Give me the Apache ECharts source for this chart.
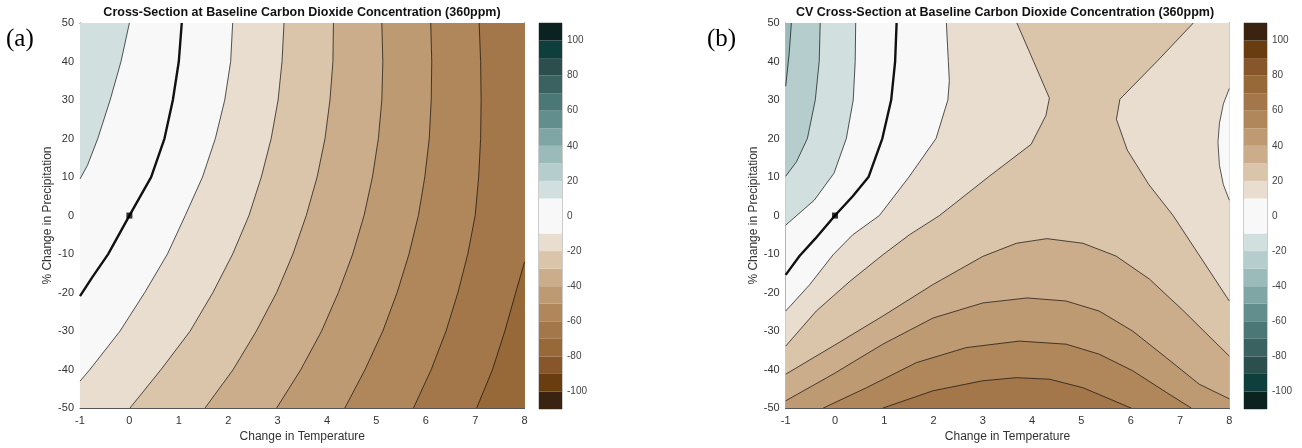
<!DOCTYPE html>
<html><head><meta charset="utf-8">
<script src="https://cdn.jsdelivr.net/npm/echarts@6/dist/echarts.min.js"></script>
<style>html,body{margin:0;padding:0;background:#fff}#c{width:1302px;height:448px}</style>
</head><body><div id="c"></div>
<script>
// ---------- axis ranges / tick labels ----------
const tempRange = [-1, 8];
const precipRange = [-50, 50];
const colorbarRange = [-110, 110];
const colorbarLabels = [-100, -80, -60, -40, -20, 0, 20, 40, 60, 80, 100];
const bandEdges = [-110,-100,-90,-80,-70,-60,-50,-40,-30,-20,-10,10,20,30,40,50,60,70,80,90,100,110];

// ---------- colour scales (index 0 = |value| 10..20, 9 = 100..110) ----------
const tealShades = ['#d2dfdf','#b6cdcd','#9bbaba','#7fa5a5','#628e8d','#4b7776','#3a6261','#2c4f4e','#0f3f3c','#0b2221'];
const brownShades = ['#e8ddcf','#dbc5aa','#cbad8b','#bd9a72','#b0865b','#a4774a','#986938','#87562a','#693d0f','#3b2311'];
const neutralShade = '#f8f8f8';

// ---------- panel (a): contour lines [temperature change, % precipitation change] ----------
const aLevel10  = [[0.0,50],[-0.17,40],[-0.39,30],[-0.64,20],[-0.85,13],[-1,9.5]];
const aLevel0   = [[1.06,50],[1.00,40],[0.88,30],[0.71,20],[0.44,10],[0,0],[-0.43,-10],[-0.75,-16],[-1,-20.9]];
const aLevelM10 = [[2.09,50],[2.05,40],[1.93,30],[1.74,20],[1.48,10],[1.13,0],[0.77,-10],[0.31,-20],[-0.19,-30],[-0.80,-40],[-1,-43]];
const aLevelM20 = [[3.13,50],[3.09,40],[3.01,30],[2.87,20],[2.67,10],[2.42,0],[2.09,-10],[1.69,-20],[1.23,-30],[0.64,-40],[0.01,-50]];
const aLevelM30 = [[4.13,50],[4.12,40],[4.06,30],[3.96,20],[3.80,10],[3.58,0],[3.31,-10],[2.98,-20],[2.57,-30],[2.10,-40],[1.53,-50]];
const aLevelM40 = [[5.11,50],[5.13,40],[5.11,30],[5.04,20],[4.92,10],[4.75,0],[4.52,-10],[4.23,-20],[3.89,-30],[3.47,-40],[2.98,-50]];
const aLevelM50 = [[6.10,50],[6.12,40],[6.11,30],[6.07,20],[5.98,10],[5.85,0],[5.66,-10],[5.42,-20],[5.13,-30],[4.77,-40],[4.36,-50]];
const aLevelM60 = [[7.08,50],[7.11,40],[7.12,30],[7.11,20],[7.07,10],[7.0,0],[6.85,-10],[6.65,-20],[6.41,-30],[6.11,-40],[5.75,-50]];
const aLevelM70 = [[7.03,-50],[7.35,-40],[7.6,-30],[7.82,-20],[8,-12]];

// ---------- panel (b): contour lines ----------
const bLevelM30 = [[-0.885,50],[-0.93,42],[-1,33.6]];
const bLevelM20 = [[-0.30,50],[-0.32,40],[-0.40,30],[-0.56,20],[-0.78,14],[-1,10.2]];
const bLevelM10 = [[0.42,50],[0.41,40],[0.37,30],[0.23,20],[-0.02,11],[-0.42,4],[-1,-2.5]];
const bLevel0   = [[1.25,50],[1.22,40],[1.14,30],[0.96,20],[0.68,10],[0.36,5],[0,0],[-0.40,-6],[-0.72,-10.5],[-1,-15.4]];
const bLevel10  = [[2.26,50],[2.30,40],[2.32,35],[2.29,30],[2.05,20],[1.50,10],[0.90,0],[0.36,-5],[-0.04,-10.2],[-0.51,-17.9],[-1,-24.8]];
const bLevel10Right = [[8,33],[7.88,29],[7.8,24],[7.77,19],[7.8,13],[7.88,8],[8,4]];
const bLevel20Left  = [[3.69,50],[4.03,40],[4.35,30.5],[4.28,26],[3.98,18.5],[3.14,10.3],[2.12,0],[1.51,-5],[0.97,-10.2],[0.30,-17.1],[-0.38,-24.8],[-1,-33.9]];
const bLevel20Right = [[7.27,50],[6.53,40],[5.78,30.2],[5.71,25],[5.93,17],[6.37,8],[6.86,0],[7.4,-10.5],[8,-22.2]];
const bLevel30 = [[-1,-41.2],[-0.04,-33.9],[0.97,-26.1],[1.99,-17.9],[3.0,-10.6],[3.68,-7.2],[4.3,-6.0],[5.03,-7.2],[5.70,-10.5],[6.38,-16.5],[7.05,-24.5],[8,-36.5]];
const bLevel40 = [[-1,-48.1],[-0.04,-41.2],[0.97,-33.4],[1.99,-26.6],[3.0,-22.7],[3.9,-21.4],[4.69,-22.2],[5.36,-24.8],[6.04,-30],[6.72,-36.9],[7.39,-43.8],[8,-47.6]];
const bLevel50 = [[-0.24,-50],[0.64,-44.7],[1.65,-38.2],[2.66,-34.3],[3.74,-32.6],[4.69,-33.4],[5.36,-36.0],[6.04,-40.3],[6.72,-45.9],[7.23,-50]];
const bLevel60 = [[0.97,-50],[1.99,-45.5],[3.0,-42.9],[3.68,-42.1],[4.35,-42.5],[5.03,-44.7],[6.01,-50]];

const baselinePoint = [[0, 0]];

// ---------- helpers ----------
const X0 = tempRange[0], X1 = tempRange[1], Y0 = precipRange[0], Y1 = precipRange[1];
function shade(v, positiveTeal) {
  const a = Math.abs(v);
  if (a < 10) return neutralShade;
  const idx = Math.min(9, Math.floor((a - 10) / 10));
  const teal = (v > 0) === positiveTeal;
  return teal ? tealShades[idx] : brownShades[idx];
}
const rev = arr => arr.slice().reverse();

// filled bands (value = band centre)
const regionsA = [
  {pts: [[X0,Y0],[X1,Y0],[X1,Y1],[X0,Y1]], v: 0},
  {pts: [[X0,Y1], ...aLevel10], v: 15},
  {pts: [...aLevelM10, [X0,Y0],[X1,Y0],[X1,Y1]], v: -15},
  {pts: [...aLevelM20, [X1,Y0],[X1,Y1]], v: -25},
  {pts: [...aLevelM30, [X1,Y0],[X1,Y1]], v: -35},
  {pts: [...aLevelM40, [X1,Y0],[X1,Y1]], v: -45},
  {pts: [...aLevelM50, [X1,Y0],[X1,Y1]], v: -55},
  {pts: [...aLevelM60, [X1,Y0],[X1,Y1]], v: -65},
  {pts: [...aLevelM70, [X1,Y0]], v: -75}
];
const regionsB = [
  {pts: [[X0,Y0],[X1,Y0],[X1,Y1],[X0,Y1]], v: 0},
  {pts: [[X0,Y1], ...bLevelM10], v: -15},
  {pts: [[X0,Y1], ...bLevelM20], v: -25},
  {pts: [[X0,Y1], ...bLevelM30], v: -35},
  {pts: [...bLevel10, [X0,Y0],[X1,Y0],[X1,Y1]], v: 15},
  {pts: [...bLevel10Right], v: 0},
  {pts: [...bLevel20Left, [X0,Y0],[X1,Y0], ...rev(bLevel20Right)], v: 25},
  {pts: [...bLevel30, [X1,Y0],[X0,Y0]], v: 35},
  {pts: [...bLevel40, [X1,Y0],[X0,Y0]], v: 45},
  {pts: [...bLevel50], v: 55},
  {pts: [...bLevel60], v: 65}
];
const linesA = [aLevel10, aLevelM10, aLevelM20, aLevelM30, aLevelM40, aLevelM50, aLevelM60, aLevelM70];
const linesB = [bLevelM30, bLevelM20, bLevelM10, bLevel10, bLevel10Right, bLevel20Left, bLevel20Right, bLevel30, bLevel40, bLevel50, bLevel60];

const FONT = 'Liberation Sans';
const AX = '#555';

function plotAxisX(grid, pos, labels, name) {
  return {
    type: 'value', gridIndex: grid, position: pos, min: X0, max: X1, interval: 1,
    axisLine: {show: true, onZero: false, lineStyle: {color: AX, width: 1}},
    axisTick: {show: true, inside: true, length: 4, lineStyle: {color: AX}},
    axisLabel: {show: labels, color: '#333', fontSize: 11, margin: 7, fontFamily: FONT},
    splitLine: {show: false},
    name: name || '', nameLocation: 'middle', nameGap: 21,
    nameTextStyle: {color: '#333', fontSize: 12, fontFamily: FONT}
  };
}
function plotAxisY(grid, pos, labels, name) {
  return {
    type: 'value', gridIndex: grid, position: pos, min: Y0, max: Y1, interval: 10,
    axisLine: {show: true, onZero: false, lineStyle: {color: AX, width: 1}},
    axisTick: {show: true, inside: true, length: 4, lineStyle: {color: AX}},
    axisLabel: {show: labels, color: '#333', fontSize: 11, margin: 6, fontFamily: FONT},
    splitLine: {show: false},
    name: name || '', nameLocation: 'middle', nameGap: 26,
    nameTextStyle: {color: '#333', fontSize: 12, fontFamily: FONT}
  };
}
function cbAxisX(grid) {
  return {type: 'value', gridIndex: grid, min: 0, max: 1, show: false};
}
function cbAxisY(grid) {
  return {
    type: 'value', gridIndex: grid, position: 'right', min: colorbarRange[0], max: colorbarRange[1],
    axisLine: {show: false},
    axisTick: {show: false},
    axisLabel: {show: true, customValues: colorbarLabels, color: '#444', fontSize: 10, margin: 5, fontFamily: FONT},
    splitLine: {show: false}
  };
}

function regionSeries(regions, xi, yi, positiveTeal) {
  return {
    type: 'custom', xAxisIndex: xi, yAxisIndex: yi, silent: true, z: 1, clip: true,
    data: regions.map(r => [r.pts[0][0], r.pts[0][1]]),
    encode: {x: 0, y: 1},
    renderItem: function (params, api) {
      const r = regions[params.dataIndex];
      return {type: 'polygon', shape: {points: r.pts.map(p => api.coord(p))},
              style: {fill: shade(r.v, positiveTeal), stroke: shade(r.v, positiveTeal), lineWidth: 0.5}};
    }
  };
}
function lineSeries(pts, xi, yi, width) {
  return {
    type: 'line', xAxisIndex: xi, yAxisIndex: yi, data: pts, showSymbol: false, silent: true, z: 3,
    lineStyle: {color: '#111', width: width}, clip: true
  };
}
function colorbarSeries(xi, yi, positiveTeal) {
  const bands = [];
  for (let i = 0; i < bandEdges.length - 1; i++) bands.push([0, bandEdges[i], bandEdges[i + 1]]);
  return {
    type: 'custom', xAxisIndex: xi, yAxisIndex: yi, silent: true, z: 1,
    data: bands, encode: {x: 0, y: [1, 2]},
    renderItem: function (params, api) {
      const lo = api.value(1), hi = api.value(2);
      const p1 = api.coord([0, hi]), p2 = api.coord([1, lo]);
      return {type: 'rect', shape: {x: p1[0], y: p1[1], width: p2[0] - p1[0], height: p2[1] - p1[1]},
              style: {fill: shade((lo + hi) / 2, positiveTeal)}};
    }
  };
}

const series = [
  regionSeries(regionsA, 0, 0, true),
  ...linesA.map(l => lineSeries(l, 0, 0, 0.7)),
  lineSeries(aLevel0, 0, 0, 2.4),
  {type: 'scatter', xAxisIndex: 0, yAxisIndex: 0, data: baselinePoint, symbol: 'rect', symbolSize: 6,
   itemStyle: {color: '#000'}, z: 4, silent: true},
  regionSeries(regionsB, 2, 2, false),
  ...linesB.map(l => lineSeries(l, 2, 2, 0.7)),
  lineSeries(bLevel0, 2, 2, 2.4),
  {type: 'scatter', xAxisIndex: 2, yAxisIndex: 2, data: baselinePoint, symbol: 'rect', symbolSize: 6,
   itemStyle: {color: '#000'}, z: 4, silent: true},
  colorbarSeries(4, 4, true),
  colorbarSeries(5, 5, false)
];

const chart = echarts.init(document.getElementById('c'), null, {renderer: 'canvas'});
chart.setOption({
  animation: false,
  backgroundColor: '#ffffff',
  grid: [
    {left: 80, top: 23, width: 444.6, height: 386},
    {left: 785.7, top: 23, width: 443.6, height: 386},
    {left: 539, top: 23, width: 23, height: 386, show: true, borderColor: '#999', borderWidth: 1},
    {left: 1244, top: 23, width: 23, height: 386, show: true, borderColor: '#999', borderWidth: 1}
  ],
  xAxis: [
    plotAxisX(0, 'bottom', true, 'Change in Temperature'),
    plotAxisX(0, 'top', false),
    plotAxisX(1, 'bottom', true, 'Change in Temperature'),
    plotAxisX(1, 'top', false),
    cbAxisX(2), cbAxisX(3)
  ],
  yAxis: [
    plotAxisY(0, 'left', true, '% Change in Precipitation'),
    plotAxisY(0, 'right', false),
    plotAxisY(1, 'left', true, '% Change in Precipitation'),
    plotAxisY(1, 'right', false),
    cbAxisY(2), cbAxisY(3)
  ],
  graphic: [
    {type: 'text', x: 302, y: 6, style: {text: 'Cross-Section at Baseline Carbon Dioxide Concentration (360ppm)',
      font: 'bold 12.5px "Liberation Sans"', fill: '#111', textAlign: 'center'}, z: 10},
    {type: 'text', x: 1005, y: 6, style: {text: 'CV Cross-Section at Baseline Carbon Dioxide Concentration (360ppm)',
      font: 'bold 12.5px "Liberation Sans"', fill: '#111', textAlign: 'center'}, z: 10},
    {type: 'text', x: 6, y: 27, style: {text: '(a)', font: '25px "Liberation Serif"', fill: '#000'}, z: 10},
    {type: 'text', x: 707, y: 27, style: {text: '(b)', font: '25px "Liberation Serif"', fill: '#000'}, z: 10}
  ],
  series: series
});
</script>
</body></html>
